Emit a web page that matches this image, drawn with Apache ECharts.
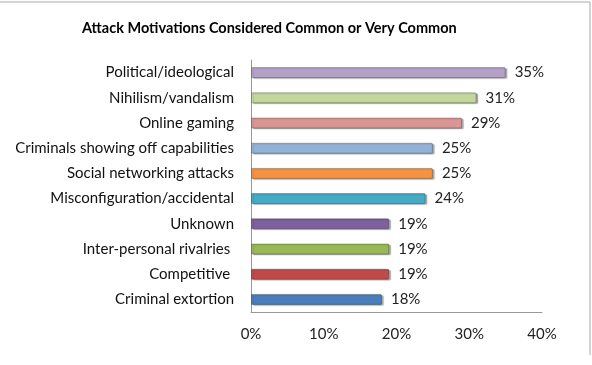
<!DOCTYPE html>
<html><head><meta charset="utf-8">
<script src="https://cdn.jsdelivr.net/npm/echarts@6/dist/echarts.min.js"></script>
<style>html,body{margin:0;padding:0;background:#fff}#c{width:592px;height:365px}</style>
</head><body><div id="c"></div>
<script>
const title = 'Attack Motivations Considered Common or Very Common';
const categories = ['Criminal extortion','Competitive ','Inter-personal rivalries ','Unknown','Misconfiguration/accidental','Social networking attacks','Criminals showing off capabilities','Online gaming','Nihilism/vandalism','Political/ideological'];
const values = [18,19,19,19,24,25,25,29,31,35];
const colors = ['#4A7EBB','#BE4B48','#98B954','#7D60A0','#46AAC5','#F69240','#94B2D6','#D99694','#C3D69B','#B3A2C7'];
const xTicks = [0,10,20,30,40];

const chart = echarts.init(document.getElementById('c'));
chart.setOption({
  animation:false,
  backgroundColor:'#fff',
  title:{text:title,left:77,top:16,textStyle:{fontFamily:'Lato',fontSize:14.5,fontWeight:'bold',color:'#000'}},
  grid:{left:251,right:50,top:60,bottom:53},
  xAxis:{type:'value',min:xTicks[0],max:xTicks[xTicks.length-1],interval:10,
    axisLine:{show:true,lineStyle:{color:'#999'}},axisTick:{show:false},splitLine:{show:false},
    axisLabel:{formatter:'{value}%',fontFamily:'Lato',fontSize:15,color:'#222',margin:15}},
  yAxis:{type:'category',data:categories,
    axisLine:{show:true,lineStyle:{color:'#999'}},axisTick:{show:false},
    axisLabel:{fontFamily:'Lato',fontSize:15,color:'#111',margin:17}},
  series:[{type:'bar',data:values.map((v,i)=>({value:v,itemStyle:{color:colors[i]}})),
    barWidth:11,
    itemStyle:{borderColor:'rgba(0,0,0,0.25)',borderWidth:1,borderRadius:[0,1,1,0],
      shadowColor:'rgba(0,0,0,0.35)',shadowOffsetX:2,shadowOffsetY:1,shadowBlur:1},
    label:{show:true,position:'right',distance:9,formatter:'{c}%',fontFamily:'Lato',fontSize:15,color:'#222'}}],
  graphic:[
    {type:'line',shape:{x1:0,y1:2,x2:590,y2:2},style:{stroke:'#aaa',lineWidth:1}},
    {type:'line',shape:{x1:590,y1:2,x2:590,y2:355},style:{stroke:'#aaa',lineWidth:1}}
  ]
});
</script></body></html>
